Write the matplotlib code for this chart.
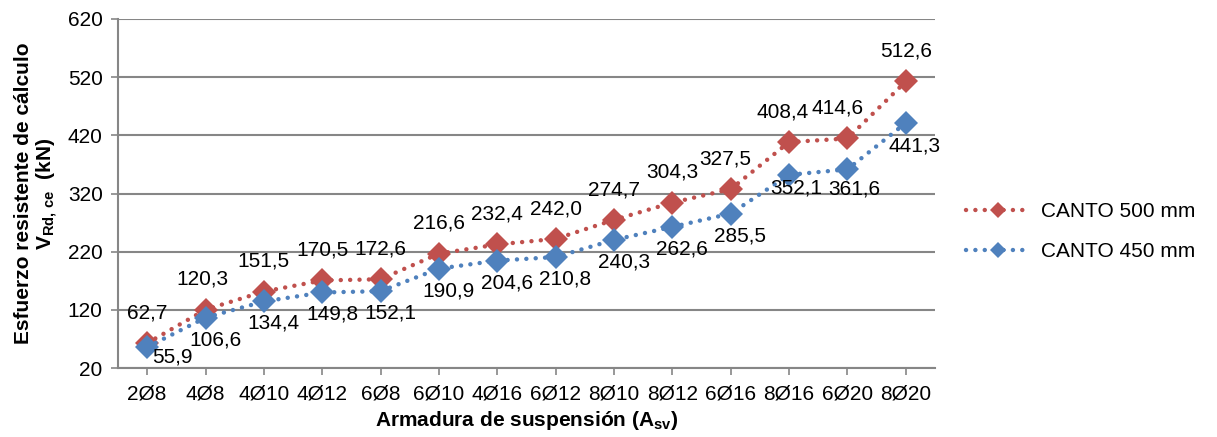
#!/usr/bin/env python3
"""Esfuerzo resistente de calculo vs armadura de suspension."""

import matplotlib
matplotlib.use('Agg')
from matplotlib import pyplot as plt, rc


CATEGORIES = ['2Ø8', '4Ø8', '4Ø10', '4Ø12', '6Ø8', '6Ø10', '4Ø16',
              '6Ø12', '8Ø10', '8Ø12', '6Ø16', '8Ø16', '6Ø20', '8Ø20']
CANTO_500 = [62.7, 120.3, 151.5, 170.5, 172.6, 216.6, 232.4,
             242.0, 274.7, 304.3, 327.5, 408.4, 414.6, 512.6]
CANTO_450 = [55.9, 106.6, 134.4, 149.8, 152.1, 190.9, 204.6,
             210.8, 240.3, 262.6, 285.5, 352.1, 361.6, 441.3]

RED = '#C0504D'
BLUE = '#4F81BD'
GRID = '#868686'
FS = 15


def fmt(v):
    return '{:.1f}'.format(v).replace('.', ',')


def main():
    rc('font', family=['Liberation Sans', 'DejaVu Sans'], size=FS)
    rc('mathtext', fontset='custom', rm='Liberation Sans',
       bf='Liberation Sans:bold', it='Liberation Sans:italic')

    fig = plt.figure(figsize=(12.17, 4.37), dpi=100)
    ax = fig.add_axes([118 / 1217, 1 - 368 / 437, 817 / 1217, 349 / 437])

    x = list(range(len(CATEGORIES)))
    style = dict(linestyle=(0, (0.01, 2.1)), dash_capstyle='round',
                 linewidth=3.2, marker='D', markersize=12,
                 markeredgewidth=0, zorder=3)
    ax.plot(x, CANTO_500, color=RED, label='CANTO 500 mm', **style)
    ax.plot(x, CANTO_450, color=BLUE, label='CANTO 450 mm', **style)

    # label offsets (points) where Excel moved them a bit
    red_dx = {11: -5, 12: -7, 1: -2, 10: -4}
    for i, v in enumerate(CANTO_500):
        ax.annotate(fmt(v), (i, v), xytext=(red_dx.get(i, 0), 15),
                    textcoords='offset points', ha='center', va='bottom',
                    fontsize=FS)
    blue_off = {0: (18, 0), 11: (5, -3), 12: (5, -7), 13: (6, -10)}
    for i, v in enumerate(CANTO_450):
        dx, dy = blue_off.get(i, (7, -9))
        ax.annotate(fmt(v), (i, v), xytext=(dx, dy),
                    textcoords='offset points', ha='center', va='top',
                    fontsize=FS)

    ax.set_xlim(-0.5, len(CATEGORIES) - 0.5)
    ax.set_ylim(20, 620)
    ax.set_yticks(range(20, 621, 100))
    ax.set_xticks(x)
    ax.set_xticklabels(CATEGORIES)
    ax.yaxis.grid(True, color=GRID, linewidth=1.5)
    ax.set_axisbelow(True)
    for side in ('top', 'right'):
        ax.spines[side].set_visible(False)
    for side in ('left', 'bottom'):
        ax.spines[side].set_color(GRID)
        ax.spines[side].set_linewidth(1.5)
    ax.tick_params(axis='both', color=GRID, width=1.2, length=5,
                   direction='out', labelsize=FS)
    ax.tick_params(axis='x', pad=7)
    ax.tick_params(axis='y', pad=6)

    ax.set_ylabel('Esfuerzo resistente de cálculo\n'
                  r'$\mathbf{V_{Rd,\,ce}}$  (kN)',
                  fontweight='bold', fontsize=FS, labelpad=6, linespacing=1.1)
    ax.set_xlabel(r'Armadura de suspensión (A$_{\mathbf{sv}}$)',
                  fontweight='bold', fontsize=FS, labelpad=4)

    ax.legend(loc='center left', bbox_to_anchor=(1.015, 0.39), frameon=False,
              fontsize=FS, handlelength=3.1, handletextpad=0.5,
              labelspacing=1.0, markerscale=0.7)

    plt.savefig('out.png', dpi=100)


if __name__ == '__main__':
    main()
